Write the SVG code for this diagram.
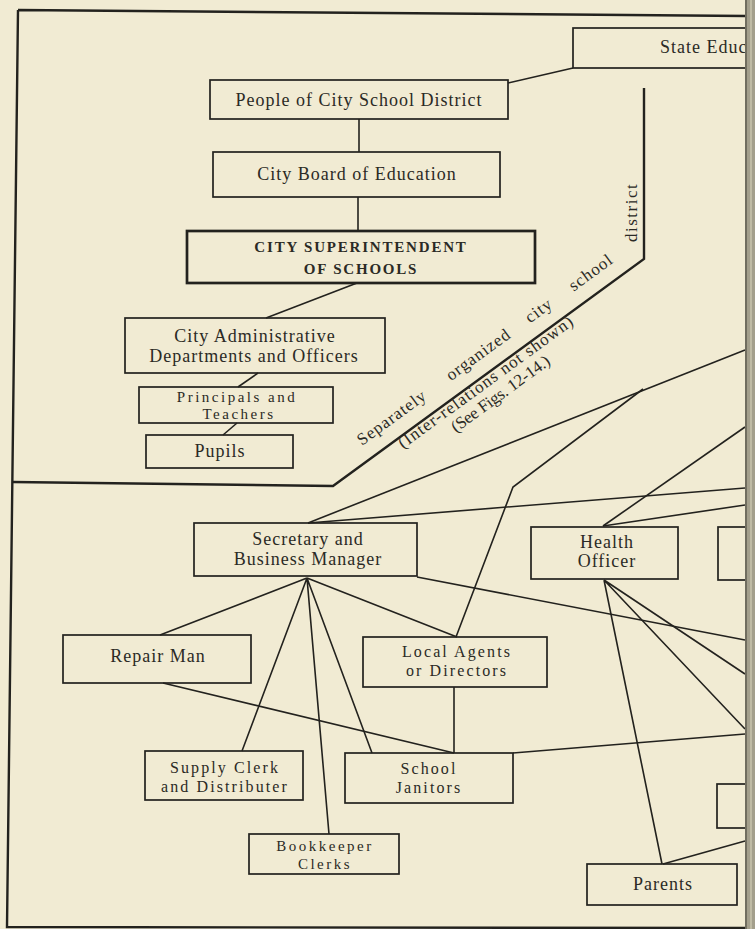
<svg xmlns="http://www.w3.org/2000/svg" width="755" height="929" viewBox="0 0 755 929">
<style>
.bg{fill:#f1ebd3}
.box{fill:none;stroke:#23221e;stroke-width:1.7}
.thick{stroke-width:2.7}
.conn{fill:none;stroke:#23221e;stroke-width:1.6;stroke-linejoin:miter}
.frame{fill:none;stroke:#23221e;stroke-width:2.4}
.lbl{font-family:"Liberation Serif","DejaVu Serif",serif;font-size:18px;letter-spacing:1px;fill:#2b2a25;text-anchor:middle}
.sm{font-size:16px;letter-spacing:2.1px}
.xs{font-size:15px;letter-spacing:2.5px}
.bold{font-weight:bold;font-size:15px;letter-spacing:1.8px}
.diag{font-family:"Liberation Serif","DejaVu Serif",serif;font-size:17px;fill:#2b2a25}
</style>
<rect class="bg" x="0" y="0" width="755" height="929"/>

<g id="frame">
<path class="frame" d="M18,10 L746,16 M18,10 L7,927 L746,928"/>
<path class="frame" d="M13,482 L333,486 L644,259 L644,88" stroke-width="2"/>
</g>

<g id="connectors">
<path class="conn" d="M508,83 L573,68"/>
<path class="conn" d="M359,119 V152"/>
<path class="conn" d="M358,197 V231"/>
<path class="conn" d="M357,283 L266,318"/>
<path class="conn" d="M258,373 L238,387"/>
<path class="conn" d="M237,423 L223,435"/>
<path class="conn" d="M308,523 L745,350"/>
<path class="conn" d="M456,637 L513,487 L643,389"/>
<path class="conn" d="M603,526 L745,427"/>
<path class="conn" d="M308,523 L745,488"/>
<path class="conn" d="M603,526 L745,505"/>
<path class="conn" d="M417,577 L745,640"/>
<path class="conn" d="M307,578 L160,635 M307,578 L242,751 M307,578 L329,834 M307,578 L372,753 M307,578 L457,637"/>
<path class="conn" d="M163,683 L454,753"/>
<path class="conn" d="M454,687 V753"/>
<path class="conn" d="M513,753 L745,734"/>
<path class="conn" d="M604,580 L662,864 M604,580 L745,674 M604,580 L745,729"/>
<path class="conn" d="M663,864 L745,841"/>
</g>

<g id="state">
<rect class="box" x="573" y="28" width="180" height="40"/>
<text class="lbl" x="660" y="53" style="text-anchor:start">State Educ</text>
</g>
<g id="people">
<rect class="box" x="210" y="80" width="298" height="39"/>
<text class="lbl" x="359" y="106">People of City School District</text>
</g>
<g id="board">
<rect class="box" x="213" y="152" width="287" height="45"/>
<text class="lbl" x="357" y="180">City Board of Education</text>
</g>
<g id="superintendent">
<rect class="box thick" x="187" y="231" width="348" height="52"/>
<text class="lbl bold" x="361" y="252">CITY SUPERINTENDENT</text>
<text class="lbl bold" x="361" y="274">OF SCHOOLS</text>
</g>
<g id="admin">
<rect class="box" x="125" y="318" width="260" height="55"/>
<text class="lbl" x="255" y="342">City Administrative</text>
<text class="lbl" x="254" y="362">Departments and Officers</text>
</g>
<g id="principals">
<rect class="box" x="139" y="387" width="194" height="36"/>
<text class="lbl xs" x="237" y="402">Principals and</text>
<text class="lbl xs" x="239" y="419">Teachers</text>
</g>
<g id="pupils">
<rect class="box" x="146" y="435" width="147" height="33"/>
<text class="lbl" x="220" y="457">Pupils</text>
</g>

<g id="district-label">
<text class="diag" font-size="18" letter-spacing="1" transform="translate(362,446) rotate(-36.1)"><tspan x="0">Separately</tspan><tspan x="110">organized</tspan><tspan x="208">city</tspan><tspan x="262">school</tspan></text>
<text class="diag" font-size="18" letter-spacing="1.5" transform="translate(637,242) rotate(-90)">district</text>
<text class="diag" transform="translate(403,449) rotate(-36.1)" textLength="212" lengthAdjust="spacing">(Inter-relations not shown)</text>
<text class="diag" font-size="11.5" transform="translate(456,433) rotate(-36.1)" textLength="118" lengthAdjust="spacing">(See Figs. 12-14.)</text>
</g>

<g id="secretary">
<rect class="box" x="194" y="523" width="223" height="53"/>
<text class="lbl" x="308" y="545">Secretary and</text>
<text class="lbl" x="308" y="565">Business Manager</text>
</g>
<g id="health">
<rect class="box" x="531" y="527" width="147" height="52"/>
<text class="lbl" x="607" y="548">Health</text>
<text class="lbl" x="607" y="567">Officer</text>
</g>
<g id="right-box-1">
<rect class="box" x="718" y="527" width="35" height="53"/>
</g>
<g id="repair">
<rect class="box" x="63" y="635" width="188" height="48"/>
<text class="lbl" x="158" y="662">Repair Man</text>
</g>
<g id="local-agents">
<rect class="box" x="363" y="637" width="184" height="50"/>
<text class="lbl sm" x="457" y="657">Local Agents</text>
<text class="lbl sm" x="457" y="676">or Directors</text>
</g>
<g id="supply">
<rect class="box" x="145" y="751" width="158" height="49"/>
<text class="lbl sm" x="225" y="773">Supply Clerk</text>
<text class="lbl sm" x="225" y="792">and Distributer</text>
</g>
<g id="janitors">
<rect class="box" x="345" y="753" width="168" height="50"/>
<text class="lbl sm" x="429" y="774">School</text>
<text class="lbl sm" x="429" y="793">Janitors</text>
</g>
<g id="bookkeeper">
<rect class="box" x="249" y="834" width="150" height="40"/>
<text class="lbl xs" x="325" y="851">Bookkeeper</text>
<text class="lbl xs" x="325" y="869">Clerks</text>
</g>
<g id="parents">
<rect class="box" x="587" y="864" width="150" height="41"/>
<text class="lbl" x="663" y="890">Parents</text>
</g>
<g id="right-box-2">
<rect class="box" x="717" y="784" width="36" height="44"/>
</g>

<g id="binding">
<rect x="745" y="0" width="10" height="929" fill="#a39f8c"/>
<line x1="746" y1="0" x2="746" y2="929" stroke="#5f5c50" stroke-width="1.5"/>
<line x1="751" y1="0" x2="751" y2="929" stroke="#c9c4ae" stroke-width="1.5"/>
</g>
</svg>
